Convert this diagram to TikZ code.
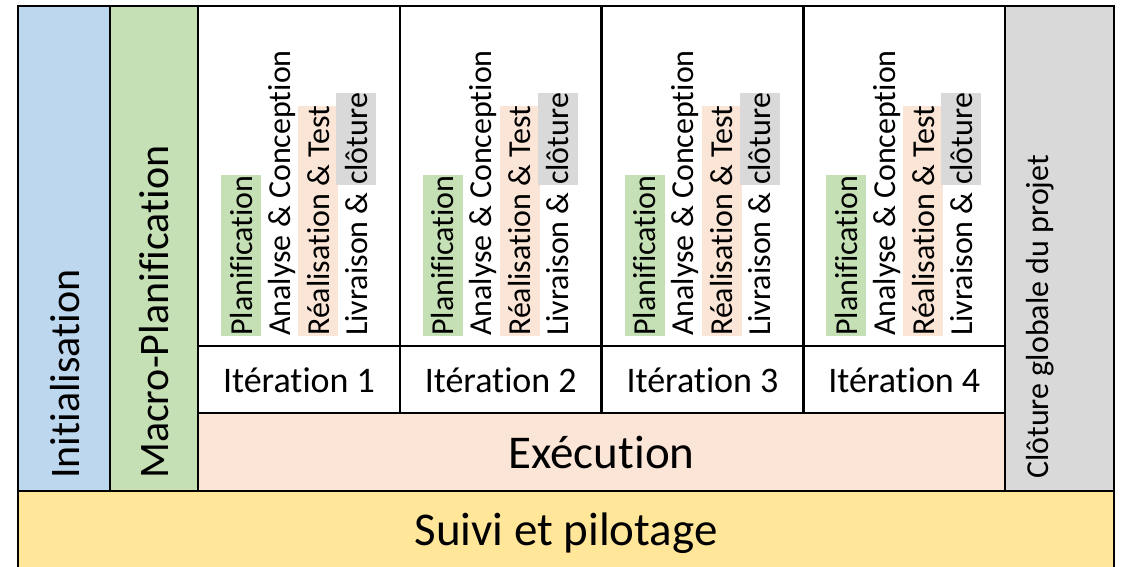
\documentclass[tikz,border=0pt]{standalone}
\usepackage{fontspec}
\setmainfont{Carlito}[Ligatures=NoCommon]
\definecolor{initblue}{HTML}{BDD7EE}
\definecolor{macgreen}{HTML}{C5E0B4}
\definecolor{exepeach}{HTML}{FBE5D6}
\definecolor{clogray}{HTML}{D9D9D9}
\definecolor{suiviyellow}{HTML}{FFE699}
\newcommand\hlstrut{\rule[-9pt]{0pt}{40pt}}
\newcommand\hlbox[2]{{\setlength\fboxsep{0pt}\colorbox{#1}{\hlstrut #2}}}
\begin{document}
\begin{tikzpicture}[x=1pt,y=-1pt,
  box/.style={draw=black,line width=2.5pt},
  vbig/.style={font=\fontsize{42}{50}\selectfont, inner sep=0pt, rotate=90, anchor=base west},
  vsmall/.style={font=\fontsize{32}{38}\selectfont, inner sep=0pt, rotate=90, anchor=base west},
  itlabel/.style={font=\fontsize{36}{43}\selectfont, inner sep=0pt, anchor=base},
  hbig/.style={font=\fontsize{47}{56}\selectfont, inner sep=0pt, anchor=base}]
\clip (0,0) rectangle (1127,567);
\fill[white] (0,0) rectangle (1127,567);
% boxes
\draw[box,fill=initblue] (18,6) rectangle (110,491);
\draw[box,fill=macgreen] (110,6) rectangle (198,491);
\foreach \k in {0,1,2,3}{
  \draw[box,fill=white] ({198+201.75*\k},6) rectangle ({198+201.75*(\k+1)},346);
  \draw[box,fill=white] ({198+201.75*\k},346) rectangle ({198+201.75*(\k+1)},413);
}
\draw[box,fill=exepeach] (198,413) rectangle (1005,491);
\draw[box,fill=clogray] (1005,6) rectangle (1114,491);
\draw[box,fill=suiviyellow] (18,491) rectangle (1114,569);
% texts
\node[vbig] (init) at (79,479) {Initialisation};
\node[vbig] (macro) at (168,479) {Macro-Planification};
\node[vsmall] (cloture) at (1048,479) {Clôture globale du projet};
\foreach \k in {1,2,3,4}{
  \pgfmathsetmacro{\dx}{201.75*(\k-1)}
  \node[vsmall] (plan\k) at ({252+\dx},336) {\hlbox{macgreen}{Planification}};
  \node[vsmall] (ana\k) at ({290+\dx},336) {\hlstrut Analyse \& Conception};
  \node[vsmall] (rea\k) at ({329+\dx},336) {\hlbox{exepeach}{Réalisation \& Test}};
  \node[vsmall] (liv\k) at ({367+\dx},336) {\hlstrut Livraison \& \hlbox{clogray}{clôture}};
  \node[itlabel] (it\k) at ({299+\dx},392) {Itération \k};
}
\node[hbig] (exec) at (601.5,468) {Exécution};
\node[hbig] (suivi) at (566,545) {Suivi et pilotage};
\end{tikzpicture}
\end{document}
